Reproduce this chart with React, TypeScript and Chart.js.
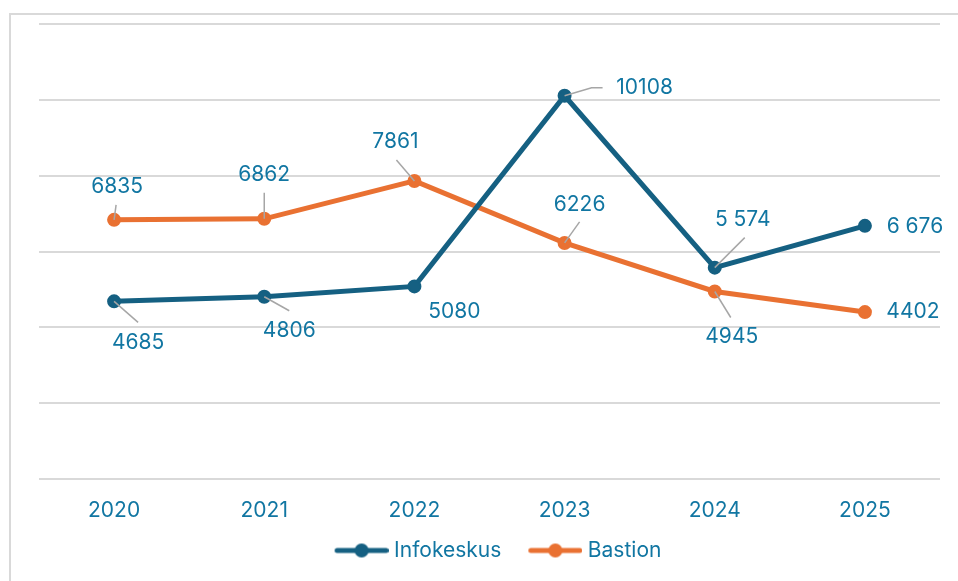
import React, { useEffect, useRef } from "react";
import { Chart, registerables } from "chart.js";

Chart.register(...registerables);

// ---- data ----
const years = ["2020", "2021", "2022", "2023", "2024", "2025"];
const infokeskusValues = [4685, 4806, 5080, 10108, 5574, 6676];
const bastionValues = [6835, 6862, 7861, 6226, 4945, 4402];
const infokeskusLabels = ["4685", "4806", "5080", "10108", "5 574", "6 676"];
const bastionLabels = ["6835", "6862", "7861", "6226", "4945", "4402"];
const seriesNames = ["Infokeskus", "Bastion"];

// ---- styling ----
const BLUE = "#156082";
const ORANGE = "#E97132";
const TEXT = "#1176A2";
const GRID = "#d9d9d9";
const LEADER = "#a6a6a6";
const FONT = "Inter, 'Open Sans', sans-serif";
const FS = 21;

// label placement (offset from point) and leader line polyline (offsets from point)
type Place = { dx: number; dy: number; leader?: [number, number][] };
const infoPlacement: Place[] = [
  { dx: 24, dy: 41, leader: [[24, 21]] },
  { dx: 25, dy: 34, leader: [[25, 14]] },
  { dx: 40, dy: 25 },
  { dx: 80, dy: -8, leader: [[27, -8], [38, -8]] },
  { dx: 28, dy: -48, leader: [[30, -30]] },
  { dx: 50, dy: 1 },
];
const bastionPlacement: Place[] = [
  { dx: 3, dy: -33, leader: [[2, -15]] },
  { dx: 0, dy: -44, leader: [[0, -26]] },
  { dx: -19, dy: -39, leader: [[-18, -21]] },
  { dx: 15, dy: -38, leader: [[15, -21]] },
  { dx: 17, dy: 45, leader: [[16, 26]] },
  { dx: 48, dy: 0 },
];

function makeLegendIcon(color: string): HTMLCanvasElement {
  const c = document.createElement("canvas");
  c.width = 76;
  c.height = 18;
  const ctx = c.getContext("2d")!;
  ctx.strokeStyle = color;
  ctx.lineWidth = 5;
  ctx.lineCap = "round";
  ctx.beginPath();
  ctx.moveTo(24.5, 9);
  ctx.lineTo(73.5, 9);
  ctx.stroke();
  ctx.fillStyle = color;
  ctx.beginPath();
  ctx.arc(49, 9, 7, 0, Math.PI * 2);
  ctx.fill();
  return c;
}

const frameAndLabels = {
  id: "frameAndLabels",
  beforeDraw(chart: any) {
    const ctx = chart.ctx;
    ctx.save();
    ctx.fillStyle = "#ffffff";
    ctx.fillRect(0, 0, chart.width, chart.height);
    ctx.strokeStyle = "#d9d9d9";
    ctx.lineWidth = 2;
    ctx.beginPath();
    ctx.moveTo(10, 590);
    ctx.lineTo(10, 14);
    ctx.lineTo(970, 14);
    ctx.stroke();
    ctx.restore();
  },
  afterDatasetsDraw(chart: any) {
    const ctx = chart.ctx;
    const sets: { labels: string[]; place: Place[] }[] = [
      { labels: infokeskusLabels, place: infoPlacement },
      { labels: bastionLabels, place: bastionPlacement },
    ];
    ctx.save();
    sets.forEach((s, di) => {
      const meta = chart.getDatasetMeta(di);
      meta.data.forEach((pt: any, i: number) => {
        const p = s.place[i];
        const x = pt.x;
        const y = pt.y;
        if (p.leader) {
          ctx.strokeStyle = LEADER;
          ctx.lineWidth = 1.5;
          ctx.beginPath();
          ctx.moveTo(x, y);
          p.leader.forEach(([lx, ly]) => ctx.lineTo(x + lx, y + ly));
          ctx.stroke();
        }
        ctx.fillStyle = TEXT;
        ctx.font = `${FS}px ${FONT}`;
        ctx.textAlign = "center";
        ctx.textBaseline = "middle";
        ctx.fillText(s.labels[i], x + p.dx, y + p.dy);
      });
    });
    ctx.restore();
  },
};

export default function App() {
  const ref = useRef<HTMLCanvasElement>(null);
  useEffect(() => {
    if (!ref.current) return;
    const icons = [makeLegendIcon(BLUE), makeLegendIcon(ORANGE)];
    const chart = new Chart(ref.current, {
      type: "line",
      data: {
        labels: years,
        datasets: [
          {
            label: seriesNames[0],
            data: infokeskusValues,
            borderColor: BLUE,
            backgroundColor: BLUE,
            borderWidth: 5,
            pointRadius: 6,
            pointBorderWidth: 2,
            pointBackgroundColor: BLUE,
            pointBorderColor: BLUE,
            tension: 0,
          },
          {
            label: seriesNames[1],
            data: bastionValues,
            borderColor: ORANGE,
            backgroundColor: ORANGE,
            borderWidth: 5,
            pointRadius: 6,
            pointBorderWidth: 2,
            pointBackgroundColor: ORANGE,
            pointBorderColor: ORANGE,
            tension: 0,
          },
        ],
      },
      options: {
        responsive: false,
        animation: false,
        layout: { padding: { left: 39, right: 18, top: 24, bottom: 10 } },
        font: { family: FONT },
        plugins: {
          tooltip: { enabled: false },
          legend: {
            position: "bottom",
            labels: {
              usePointStyle: true,
              pointStyleWidth: 66,
              boxHeight: 14,
              padding: 10,
              color: TEXT,
              font: { family: FONT, size: FS },
              generateLabels: (c: any) =>
                Chart.defaults.plugins.legend.labels
                  .generateLabels(c)
                  .map((l: any, i: number) => ({ ...l, pointStyle: icons[i] })),
            },
          },
        },
        scales: {
          x: {
            offset: true,
            grid: { display: false, drawTicks: false },
            border: { display: false },
            ticks: {
              color: TEXT,
              padding: 19,
              font: { family: FONT, size: FS },
            },
            afterFit: (s: any) => {
              s.height = 51;
            },
          },
          y: {
            min: 0,
            max: 12000,
            ticks: { display: false, stepSize: 2000 },
            grid: { color: GRID, lineWidth: 2, drawTicks: false },
            border: { display: false },
          },
        },
      },
      plugins: [frameAndLabels],
    });
    return () => chart.destroy();
  }, []);
  return (
    <div style={{ position: "fixed", left: 0, top: 0, width: 958, height: 581, background: "#fff" }}>
      <canvas ref={ref} width={958} height={581} />
    </div>
  );
}
